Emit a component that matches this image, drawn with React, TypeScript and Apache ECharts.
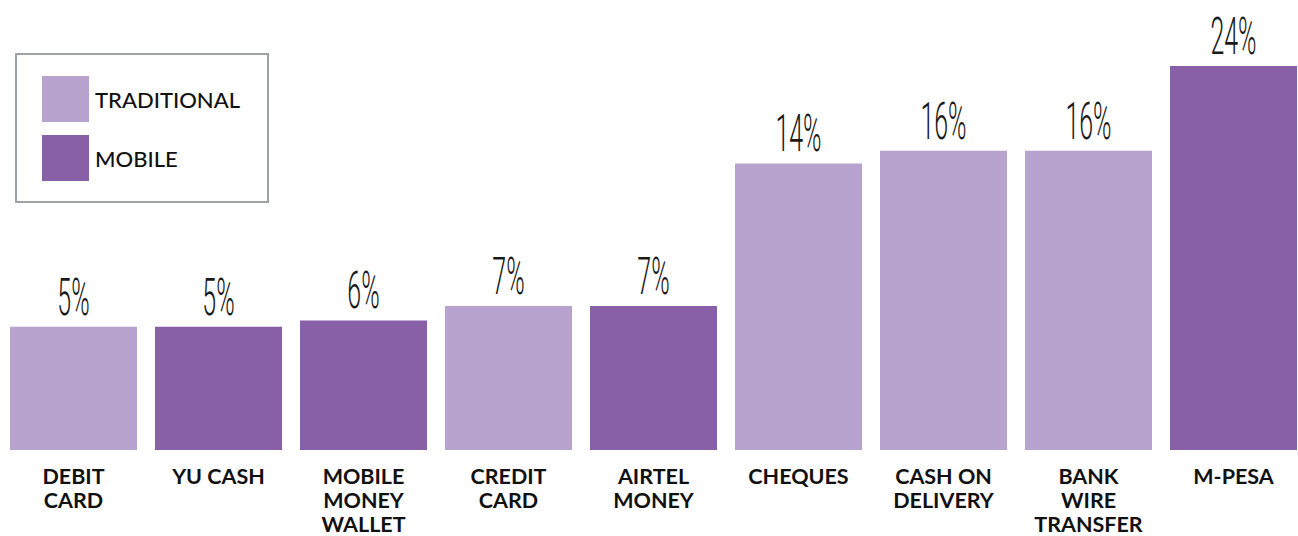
import React, { useEffect, useRef } from "react";
import * as echarts from "echarts";

const categories = [
  "DEBIT\nCARD",
  "YU CASH",
  "MOBILE\nMONEY\nWALLET",
  "CREDIT\nCARD",
  "AIRTEL\nMONEY",
  "CHEQUES",
  "CASH ON\nDELIVERY",
  "BANK\nWIRE\nTRANSFER",
  "M-PESA",
];
// channel type per category
const channelTypes = ["T", "M", "M", "T", "M", "T", "T", "T", "M"];
// printed percentages
const percentLabels = ["5%", "5%", "6%", "7%", "7%", "14%", "16%", "16%", "24%"];
// bar heights as drawn in the picture (scaled so the tallest bar = 24)
const plottedHeights = [7.7, 7.7, 8.1, 9.0, 9.0, 17.9, 18.7, 18.7, 24];

const LIGHT = "#b8a3ce";
const DARK = "#8860a8";

export default function App() {
  const ref = useRef<HTMLDivElement>(null);
  useEffect(() => {
    if (!ref.current) return;
    const chart = echarts.init(ref.current, undefined, { renderer: "svg" });
    const traditional = plottedHeights.map((v, i) => (channelTypes[i] === "T" ? v : "-"));
    const mobile = plottedHeights.map((v, i) => (channelTypes[i] === "M" ? v : "-"));
    chart.setOption({
      animation: false,
      grid: { left: 1, right: 4, top: 66, bottom: 83 },
      xAxis: {
        type: "category",
        data: categories,
        axisLine: { show: false },
        axisTick: { show: false },
        axisLabel: {
          interval: 0,
          margin: 14,
          color: "#111111",
          fontFamily: "Lato",
          fontWeight: "bold",
          fontSize: 21.5,
          lineHeight: 24,
        },
      },
      yAxis: { type: "value", min: 0, max: 24, show: false, splitLine: { show: false } },
      legend: {
        data: ["TRADITIONAL", "MOBILE"],
        orient: "vertical",
        left: 42,
        top: 76,
        padding: 0,
        itemWidth: 47,
        itemHeight: 46,
        itemGap: 13,
        icon: "rect",
        selectedMode: false,
        textStyle: {
          fontFamily: "Lato",
          fontWeight: 500,
          fontSize: 22,
          color: "#111111",
          padding: [0, 0, 0, 1],
        },
      },
      graphic: [
        {
          type: "rect",
          shape: { x: 16, y: 54, width: 252, height: 148 },
          style: { fill: "none", stroke: "#9ea3a8", lineWidth: 2 },
          silent: true,
        },
      ],
      series: [
        {
          name: "TRADITIONAL",
          type: "bar",
          stack: "all",
          barWidth: 127,
          data: traditional,
          itemStyle: { color: LIGHT },
        },
        {
          name: "MOBILE",
          type: "bar",
          stack: "all",
          barWidth: 127,
          data: mobile,
          itemStyle: { color: DARK },
        },
        {
          name: "labels",
          type: "custom",
          data: plottedHeights.map((v, i) => [i, v]),
          renderItem: (params: any, api: any) => {
            const pt = api.coord([api.value(0), api.value(1)]);
            return {
              type: "text",
              x: pt[0],
              y: pt[1] - 30,
              scaleX: 0.48,
              style: {
                text: percentLabels[params.dataIndex],
                fontFamily: "Roboto",
                fontWeight: 300,
                fontSize: 52,
                fill: "#1a1a1a",
                align: "center",
                verticalAlign: "middle",
              },
            };
          },
        },
      ],
    });
    return () => chart.dispose();
  }, []);
  return (
    <div style={{ position: "fixed", left: 0, top: 0, width: 1298, height: 536, overflow: "hidden", background: "#fff" }}>
      <div ref={ref} style={{ width: 1310, height: 536 }} />
    </div>
  );
}
